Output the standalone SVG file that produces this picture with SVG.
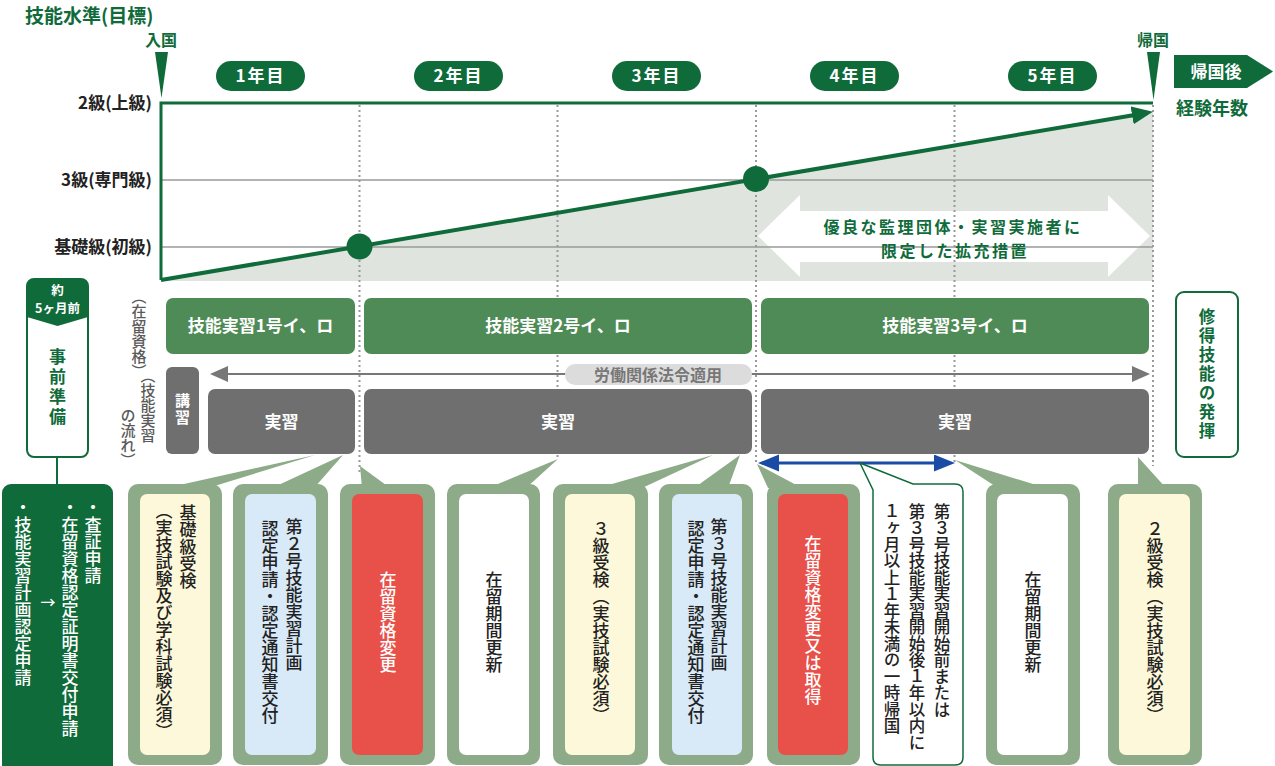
<svg xmlns="http://www.w3.org/2000/svg" width="1275" height="766" viewBox="0 0 1275 766">
<defs>
<style>
text{font-family:'Noto Sans CJK JP','Noto Sans CJK SC',sans-serif;}
.b{font-weight:700}
.m{font-weight:500}
.v{writing-mode:vertical-rl}
.c{text-anchor:middle}
.e{text-anchor:end}
.dg{fill:#106b3b}
.wt{fill:#ffffff}
.bk{fill:#222222}
.gy{fill:#5a5a5a}
.pill{fill:#106b3b}
.status{fill:#4f8b56}
.flow{fill:#6f6f6f}
.outer{fill:#8dab88}
.tail{fill:#8dab88}
.grid{stroke:#9a9a9a;stroke-width:1.5;fill:none}
.dot{stroke:#9a9a9a;stroke-width:2;stroke-dasharray:2 3;fill:none}
</style>
<marker id="mTrend" markerUnits="userSpaceOnUse" markerWidth="22" markerHeight="20" refX="10" refY="9" orient="auto"><path d="M0,0 L21,9 L0,18 z" fill="#106b3b"/></marker>
<marker id="mLaw" markerUnits="userSpaceOnUse" markerWidth="20" markerHeight="18" refX="14" refY="8" orient="auto-start-reverse"><path d="M0,0 L18,8 L0,16 z" fill="#777777"/></marker>
<marker id="mBlue" markerUnits="userSpaceOnUse" markerWidth="24" markerHeight="20" refX="16" refY="8.5" orient="auto-start-reverse"><path d="M0,0 L21,8.5 L0,17 z" fill="#1a4ba5"/></marker>
</defs>
<rect width="1275" height="766" fill="#ffffff"/>

<g id="title"><text x="25" y="23" class="b dg" font-size="19">技能水準(目標)</text></g>

<g id="chart">
<polygon points="161,280 1152,112 1153,112 1153,281 161,281" fill="#dfe5de"/>
<polygon points="758,236 800,195 800,211 1108,211 1108,195 1150,236 1108,277 1108,262 800,262 800,277" fill="#ffffff"/>
<line class="grid" x1="161" y1="180" x2="1153" y2="180"/>
<line class="grid" x1="161" y1="247" x2="1153" y2="247"/>
<line class="dot" x1="359.5" y1="105" x2="359.5" y2="472"/>
<line class="dot" x1="557.5" y1="105" x2="557.5" y2="460"/>
<line class="dot" x1="756" y1="105" x2="756" y2="463"/>
<line class="dot" x1="954.5" y1="105" x2="954.5" y2="462"/>
<line class="dot" x1="1153" y1="105" x2="1153" y2="466"/>
<polyline points="161,280 161,103 1153,103" fill="none" stroke="#106b3b" stroke-width="3"/>
<text x="953" y="233" class="b dg c" font-size="16" letter-spacing="2.5">優良な監理団体・実習実施者に</text>
<text x="955" y="257" class="b dg c" font-size="16" letter-spacing="2.5">限定した拡充措置</text>
</g>

<g id="ylabels">
<text x="152" y="109" class="b bk e" font-size="17">2級(上級)</text>
<text x="152" y="186" class="b bk e" font-size="17">3級(専門級)</text>
<text x="152" y="253" class="b bk e" font-size="17">基礎級(初級)</text>
</g>

<g id="entry">
<text x="161" y="46" class="b dg c" font-size="16">入国</text>
<polygon points="155,52 168,52 161.5,98" fill="#106b3b"/>
</g>
<g id="return">
<text x="1153" y="46" class="b dg c" font-size="16">帰国</text>
<polygon points="1147,52 1160,52 1153.5,100" fill="#106b3b"/>
</g>
<g id="after-return">
<polygon points="1174,55 1247,55 1273,71.5 1247,88 1174,88" fill="#106b3b"/>
<text x="1216" y="78" class="b wt c" font-size="17">帰国後</text>
<text x="1176" y="115" class="b dg" font-size="18">経験年数</text>
</g>

<g id="year1"><rect x="216" y="61" width="89" height="30" rx="15" class="pill"/><text x="260.5" y="82" class="b wt c" font-size="17" letter-spacing="2">1年目</text></g>
<g id="year2"><rect x="414" y="61" width="89" height="30" rx="15" class="pill"/><text x="458.5" y="82" class="b wt c" font-size="17" letter-spacing="2">2年目</text></g>
<g id="year3"><rect x="612" y="61" width="89" height="30" rx="15" class="pill"/><text x="656.5" y="82" class="b wt c" font-size="17" letter-spacing="2">3年目</text></g>
<g id="year4"><rect x="810" y="61" width="89" height="30" rx="15" class="pill"/><text x="854.5" y="82" class="b wt c" font-size="17" letter-spacing="2">4年目</text></g>
<g id="year5"><rect x="1008" y="61" width="89" height="30" rx="15" class="pill"/><text x="1052.5" y="82" class="b wt c" font-size="17" letter-spacing="2">5年目</text></g>

<g id="row-labels">
<text x="139" y="289" class="m gy v" font-size="15">（在留資格）</text>
<text x="148" y="368" class="m gy v" font-size="15">（技能実習</text>
<text x="128" y="408" class="m gy v" font-size="15">の流れ）</text>
</g>

<g id="status1"><rect x="166" y="298" width="189" height="56" rx="7" class="status"/><text x="260.5" y="332" class="b wt c" font-size="17">技能実習1号イ、ロ</text></g>
<g id="status2"><rect x="364" y="298" width="388" height="56" rx="7" class="status"/><text x="558" y="332" class="b wt c" font-size="17">技能実習2号イ、ロ</text></g>
<g id="status3"><rect x="761" y="298" width="388" height="56" rx="7" class="status"/><text x="955" y="332" class="b wt c" font-size="17">技能実習3号イ、ロ</text></g>

<g id="connectors">
<line x1="161" y1="280" x2="1142" y2="113.7" stroke="#106b3b" stroke-width="4" marker-end="url(#mTrend)"/>
<line x1="214" y1="374" x2="1146" y2="374" stroke="#777777" stroke-width="2" marker-start="url(#mLaw)" marker-end="url(#mLaw)"/>
<line x1="763" y1="463" x2="950" y2="463" stroke="#1a4ba5" stroke-width="3" marker-start="url(#mBlue)" marker-end="url(#mBlue)"/>
<line x1="57" y1="457" x2="57" y2="485" stroke="#106b3b" stroke-width="2"/>
<polygon class="tail" points="166,488 208,488 315,455"/>
<polygon class="tail" points="272,488 314,488 343,455"/>
<polygon class="tail" points="362,488 390,488 360,466"/>
<polygon class="tail" points="488,488 526,488 558,459"/>
<polygon class="tail" points="598,488 642,488 713,455"/>
<polygon class="tail" points="694,488 728,488 740,455"/>
<polygon class="tail" points="768,488 802,488 757,464"/>
<polygon class="tail" points="998,488 1046,488 955,460"/>
<polygon class="tail" points="1138,488 1166,488 1138,457"/>
</g>

<g id="law-label"><rect x="565" y="364" width="187" height="21" rx="10" fill="#dcdcdc"/><text x="658" y="381" class="b c" font-size="16" fill="#777777">労働関係法令適用</text></g>

<g id="lecture"><rect x="166" y="367" width="33" height="87" rx="6" class="flow"/><text x="182.5" y="410" class="b wt v c" font-size="15" letter-spacing="2">講習</text></g>
<g id="practice1"><rect x="208" y="389" width="147" height="65" rx="7" class="flow"/><text x="281.5" y="428" class="b wt c" font-size="17">実習</text></g>
<g id="practice2"><rect x="364" y="389" width="388" height="65" rx="7" class="flow"/><text x="558" y="428" class="b wt c" font-size="17">実習</text></g>
<g id="practice3"><rect x="761" y="389" width="388" height="65" rx="7" class="flow"/><text x="955" y="428" class="b wt c" font-size="17">実習</text></g>

<g id="prep">
<rect x="27" y="279" width="61" height="178" rx="7" fill="#ffffff" stroke="#106b3b" stroke-width="2"/>
<path d="M27,286 Q27,279 34,279 L81,279 Q88,279 88,286 L88,317 L57.5,326 L27,317 z" fill="#106b3b"/>
<text x="57.5" y="295" class="b wt c" font-size="12.5">約</text>
<text x="57.5" y="313" class="b wt c" font-size="12.5">5ヶ月前</text>
<text x="57.5" y="388" class="b dg v c" font-size="17" letter-spacing="3">事前準備</text>
</g>

<g id="skills">
<rect x="1176" y="292" width="62" height="165" rx="8" fill="#ffffff" stroke="#106b3b" stroke-width="2"/>
<text x="1207" y="375" class="b dg v c" font-size="16.5" letter-spacing="2.5">修得技能の発揮</text>
</g>

<g id="prep-tasks">
<rect x="2" y="484" width="111" height="290" rx="9" fill="#106b3b"/>
<text x="93" y="499" class="m wt v" font-size="17">・査証申請</text>
<text x="70" y="499" class="m wt v" font-size="17">・在留資格認定証明書交付申請</text>
<text x="23" y="499" class="m wt v" font-size="17">・技能実習計画認定申請</text>
<text x="48" y="608" class="m wt c" font-size="15">→</text>
</g>

<g id="card1"><rect x="128" y="484" width="94" height="281" rx="10" class="outer"/><rect x="140" y="494" width="70" height="261" rx="7" fill="#fdf8d9"/>
<text x="188" y="504" class="m bk v" font-size="17">基礎級受検</text>
<text x="164" y="502" class="m bk v" font-size="17">（実技試験及び学科試験必須）</text></g>
<g id="card2"><rect x="233" y="484" width="95" height="281" rx="10" class="outer"/><rect x="245" y="494" width="71" height="261" rx="7" fill="#d8e9f8"/>
<text x="294" y="518" class="m bk v" font-size="17">第２号技能実習計画</text>
<text x="270" y="520" class="m bk v" font-size="17">認定申請・認定通知書交付</text></g>
<g id="card3"><rect x="340" y="484" width="95" height="281" rx="10" class="outer"/><rect x="352" y="494" width="71" height="261" rx="7" fill="#e8504a"/>
<text x="388" y="622" class="m wt v c" font-size="17">在留資格変更</text></g>
<g id="card4"><rect x="447" y="484" width="93" height="281" rx="10" class="outer"/><rect x="459" y="494" width="70" height="261" rx="7" fill="#ffffff"/>
<text x="494" y="622" class="m bk v c" font-size="17">在留期間更新</text></g>
<g id="card5"><rect x="553" y="484" width="95" height="281" rx="10" class="outer"/><rect x="565" y="494" width="70" height="261" rx="7" fill="#fdf8d9"/>
<text x="601" y="622" class="m bk v c" font-size="17">３級受検（実技試験必須）</text></g>
<g id="card6"><rect x="659" y="484" width="94" height="281" rx="10" class="outer"/><rect x="672" y="494" width="70" height="261" rx="7" fill="#d8e9f8"/>
<text x="719" y="518" class="m bk v" font-size="17">第３号技能実習計画</text>
<text x="696" y="520" class="m bk v" font-size="17">認定申請・認定通知書交付</text></g>
<g id="card7"><rect x="767" y="484" width="93" height="281" rx="10" class="outer"/><rect x="778" y="494" width="70" height="261" rx="7" fill="#e8504a"/>
<text x="813" y="620" class="m wt v c" font-size="17">在留資格変更又は取得</text></g>
<g id="card8"><path d="M873,757 L873,490 L860,463 L913,484 L955,484 Q963,484 963,492 L963,757 Q963,765 955,765 L881,765 Q873,765 873,757 z" fill="#ffffff" stroke="#106b3b" stroke-width="1.5"/>
<text x="942" y="503" class="m bk v" font-size="16.5">第３号技能実習開始前または</text>
<text x="917" y="503" class="m bk v" font-size="16.5">第３号技能実習開始後１年以内に</text>
<text x="892" y="503" class="m bk v" font-size="16.5">１ヶ月以上１年未満の一時帰国</text></g>
<g id="card9"><rect x="986" y="484" width="94" height="281" rx="10" class="outer"/><rect x="997" y="494" width="71" height="261" rx="7" fill="#ffffff"/>
<text x="1033" y="622" class="m bk v c" font-size="17">在留期間更新</text></g>
<g id="card10"><rect x="1108" y="484" width="94" height="281" rx="10" class="outer"/><rect x="1119" y="494" width="71" height="261" rx="7" fill="#fdf8d9"/>
<text x="1155" y="622" class="m bk v c" font-size="17">２級受検（実技試験必須）</text></g>

<g id="milestones">
<circle cx="359.5" cy="246.5" r="13" fill="#106b3b"/>
<circle cx="756" cy="179" r="13" fill="#106b3b"/>
</g>
</svg>
